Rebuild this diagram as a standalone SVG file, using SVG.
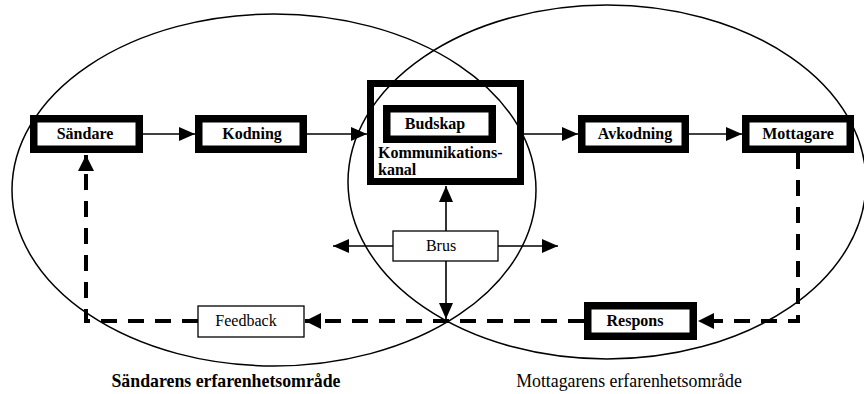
<svg xmlns="http://www.w3.org/2000/svg" width="864" height="394" viewBox="0 0 864 394">
<style>
.ell{fill:none;stroke:#000;stroke-width:1.5}
.thick{fill:#fff;stroke:#000;stroke-width:7.5}
.thin{fill:#fff;stroke:#000;stroke-width:1.3}
.bl{font-family:"Liberation Serif","Times New Roman",serif;font-weight:bold;font-size:16px;fill:#000}
.rl{font-family:"Liberation Serif","Times New Roman",serif;font-size:16px;fill:#000}
.cap{font-family:"Liberation Serif","Times New Roman",serif;font-size:17.8px;fill:#000}
.arr{fill:none;stroke:#000;stroke-width:1.6}
.dash{fill:none;stroke:#000;stroke-width:4;stroke-dasharray:16 11}
</style>
<defs>
<marker id="ah" markerUnits="userSpaceOnUse" markerWidth="16" markerHeight="14" refX="16" refY="7" orient="auto">
<path d="M0,0 L16,7 L0,14 z" fill="#000"/>
</marker>
<marker id="ahd" markerUnits="userSpaceOnUse" markerWidth="16" markerHeight="16" refX="16" refY="8" orient="auto">
<path d="M0,0 L16,8 L0,16 z" fill="#000"/>
</marker>
</defs>
<g id="areas">
<ellipse class="ell" cx="274" cy="190" rx="262" ry="176"/>
<ellipse class="ell" cx="607" cy="182" rx="259" ry="177"/>
</g>
<g id="connectors">
<line class="arr" x1="143" y1="134" x2="195" y2="134" marker-end="url(#ah)"/>
<line class="arr" x1="307" y1="134" x2="367" y2="134" marker-end="url(#ah)"/>
<line class="arr" x1="524" y1="134" x2="578" y2="134" marker-end="url(#ah)"/>
<line class="arr" x1="689" y1="134" x2="742" y2="134" marker-end="url(#ah)"/>
<line class="arr" x1="446" y1="231" x2="446" y2="186" marker-end="url(#ah)"/>
<line class="arr" x1="393" y1="246" x2="333" y2="246" marker-end="url(#ah)"/>
<line class="arr" x1="498" y1="246" x2="558" y2="246" marker-end="url(#ah)"/>
<line class="arr" x1="446" y1="261" x2="446" y2="319" marker-end="url(#ah)"/>
<polyline class="dash" points="798,153 798,321 698,321" marker-end="url(#ahd)"/>
<line class="dash" x1="584" y1="321" x2="305" y2="321" marker-end="url(#ahd)"/>
<polyline class="dash" points="198,321 86,321 86,155" marker-end="url(#ahd)"/>
</g>
<g id="sandare">
<rect class="thick" x="33.75" y="118.75" width="105.5" height="30.5"/>
<text class="bl" x="85" y="139" text-anchor="middle">Sändare</text>
</g>
<g id="kodning">
<rect class="thick" x="198.75" y="118.75" width="104.5" height="30.5"/>
<text class="bl" x="252" y="139" text-anchor="middle">Kodning</text>
</g>
<g id="kanal">
<rect x="370.5" y="83.5" width="150" height="98" fill="none" stroke="#000" stroke-width="7"/>
<text class="bl" x="378" y="158">Kommunikations-</text>
<text class="bl" x="378" y="175">kanal</text>
</g>
<g id="budskap">
<rect class="thick" x="386.75" y="108.75" width="105.5" height="30.5"/>
<text class="bl" x="435" y="129" text-anchor="middle">Budskap</text>
</g>
<g id="avkodning">
<rect class="thick" x="581.75" y="118.75" width="103.5" height="30.5"/>
<text class="bl" x="635" y="139" text-anchor="middle">Avkodning</text>
</g>
<g id="mottagare">
<rect class="thick" x="745.75" y="118.75" width="104.5" height="30.5"/>
<text class="bl" x="798" y="139" text-anchor="middle">Mottagare</text>
</g>
<g id="brus">
<rect class="thin" x="393" y="231" width="105" height="30"/>
<text class="rl" x="441" y="251" text-anchor="middle">Brus</text>
</g>
<g id="feedback">
<rect class="thin" x="198" y="306" width="106" height="31"/>
<text class="rl" x="246" y="326" text-anchor="middle">Feedback</text>
</g>
<g id="respons">
<rect class="thick" x="587.75" y="305.75" width="105.5" height="30.5"/>
<text class="bl" x="635" y="326" text-anchor="middle">Respons</text>
</g>
<g id="labels">
<text class="cap" x="226" y="387" text-anchor="middle" font-weight="bold">Sändarens erfarenhetsområde</text>
<text class="cap" x="629" y="387" text-anchor="middle">Mottagarens erfarenhetsområde</text>
</g>
</svg>
